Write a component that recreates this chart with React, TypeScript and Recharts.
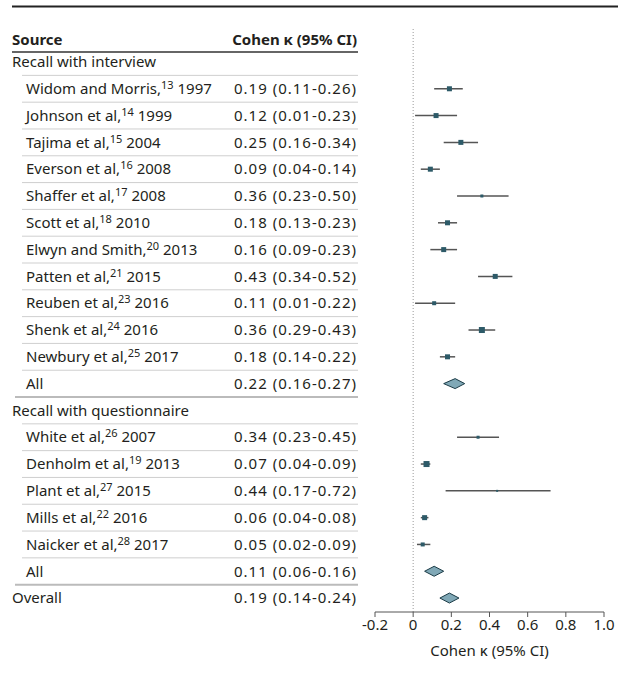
import React from 'react'
import * as R from 'recharts'

const { ScatterChart, Scatter, XAxis, YAxis, ErrorBar, ReferenceLine } = R

// one entry per table row, top to bottom
const sources = [
  'Recall with interview',
  'Widom and Morris,', 'Johnson et al,', 'Tajima et al,', 'Everson et al,', 'Shaffer et al,',
  'Scott et al,', 'Elwyn and Smith,', 'Patten et al,', 'Reuben et al,', 'Shenk et al,', 'Newbury et al,',
  'All',
  'Recall with questionnaire',
  'White et al,', 'Denholm et al,', 'Plant et al,', 'Mills et al,', 'Naicker et al,',
  'All',
  'Overall',
]
const refs = ['', '13', '14', '15', '16', '17', '18', '20', '21', '23', '24', '25', '', '', '26', '19', '27', '22', '28', '', '']
const years = ['', '1997', '1999', '2004', '2008', '2008', '2010', '2013', '2015', '2016', '2016', '2017', '', '', '2007', '2013', '2015', '2016', '2017', '', '']
const rowKind = ['group', 's', 's', 's', 's', 's', 's', 's', 's', 's', 's', 's', 'sub', 'group', 's', 's', 's', 's', 's', 'sub', 'overall']
const kappa = [null, 0.19, 0.12, 0.25, 0.09, 0.36, 0.18, 0.16, 0.43, 0.11, 0.36, 0.18, 0.22, null, 0.34, 0.07, 0.44, 0.06, 0.05, 0.11, 0.19]
const lower = [null, 0.11, 0.01, 0.16, 0.04, 0.23, 0.13, 0.09, 0.34, 0.01, 0.29, 0.14, 0.16, null, 0.23, 0.04, 0.17, 0.04, 0.02, 0.06, 0.14]
const upper = [null, 0.26, 0.23, 0.34, 0.14, 0.50, 0.23, 0.23, 0.52, 0.22, 0.43, 0.22, 0.27, null, 0.45, 0.09, 0.72, 0.08, 0.09, 0.16, 0.24]
// relative study weight (drives marker size)
const weight = [0, 5, 5, 5, 5, 3, 5, 5, 5, 4, 6, 5, 0, 0, 3, 6, 2, 5, 4, 0, 0]
const xTicks = [-0.2, 0, 0.2, 0.4, 0.6, 0.8, 1.0]

const FONT = '"Noto Sans", "Open Sans", sans-serif'
const INK = '#231f20'
const ROW_H = 26.8

const rows = sources.map((s, i) => i)
const studies = rows
  .filter(i => rowKind[i] === 's')
  .map(i => ({ x: kappa[i], y: i, w: weight[i], err: [kappa[i]! - lower[i]!, upper[i]! - kappa[i]!] }))
const pooled = rows
  .filter(i => rowKind[i] === 'sub' || rowKind[i] === 'overall')
  .map(i => ({ x: kappa[i], y: i, lo: lower[i], hi: upper[i] }))

const ciText = (i: number) =>
  kappa[i] == null ? '' : `${kappa[i]!.toFixed(2)} (${lower[i]!.toFixed(2)}-${upper[i]!.toFixed(2)})`

function RowTick(props: any) {
  const i = props.payload.value
  const y = props.y
  const kind = rowKind[i]
  const indent = kind === 's' || kind === 'sub'
  return (
    <g fontFamily={FONT} fontSize={15} fill={INK}>
      <text x={indent ? 26 : 12} y={y} dy="0.35em" fill={INK}>
        {sources[i]}
        {refs[i] && <tspan fontSize={11} dy={-5}>{refs[i]}</tspan>}
        {years[i] && <tspan dy={refs[i] ? 5 : 0}> {years[i]}</tspan>}
      </text>
      <text x={357} y={y} dy="0.35em" textAnchor="end" letterSpacing={1} fill={INK}>{ciText(i)}</text>
      {kind !== 'overall' && (
        <line
          x1={kind === 'sub' ? 15 : 22} x2={358}
          y1={y + ROW_H / 2} y2={y + ROW_H / 2}
          stroke={kind === 'sub' ? '#bbb' : '#cfcfcf'} strokeWidth={kind === 'sub' ? 2 : 1}
        />
      )}
    </g>
  )
}

function StudyMark(props: any) {
  const s = props.payload.w
  return <rect x={props.cx - s / 2} y={props.cy - s / 2} width={s} height={s} fill="#2d5a68" />
}

function DiamondMark(props: any) {
  const anyR = R as any
  const scale = anyR.useXAxisScale ? anyR.useXAxisScale() : null
  const plot = anyR.usePlotArea ? anyR.usePlotArea() : null
  const toPx = (v: number) => {
    if (scale) return scale(v)
    if (plot) return plot.x + ((v - xTicks[0]) / (xTicks[xTicks.length - 1] - xTicks[0])) * plot.width
    return props.cx
  }
  const { cx, cy, payload } = props
  const l = toPx(payload.lo)
  const h = toPx(payload.hi)
  const pts = `${l},${cy} ${cx},${cy - 5} ${h},${cy} ${cx},${cy + 5}`
  return <polygon points={pts} fill="#80a8b6" stroke="#1b3b46" strokeWidth={1} />
}

export default function App() {
  return (
    <div style={{ position: 'absolute', left: 0, top: 0, width: 621, height: 679, background: '#fff' }}>
      <svg width={621} height={679} style={{ position: 'absolute', left: 0, top: 0 }}>
        <line x1={12} x2={618} y1={6.5} y2={6.5} stroke="#222" strokeWidth={2} />
        <text x={12} y={40} dy="0.35em" fontFamily={FONT} fontSize={15} fontWeight={700} fill={INK}>Source</text>
        <text x={357} y={40} dy="0.35em" textAnchor="end" fontFamily={FONT} fontSize={15} fontWeight={700} fill={INK}>Cohen κ (95% CI)</text>
        <line x1={12} x2={358} y1={52} y2={52} stroke="#333" strokeWidth={1.5} />
      </svg>
      <div style={{ position: 'absolute', left: 0, top: 0 }}>
        <ScatterChart width={621} height={679} margin={{ top: 29, right: 17, bottom: 0, left: 0 }}>
          <XAxis
            type="number" dataKey="x" domain={[-0.2, 1]} ticks={xTicks} allowDataOverflow
            tickFormatter={(v: number) => (v === 0 ? '0' : v.toFixed(1))}
            height={67} tickSize={5} stroke="#555"
            tick={{ fill: INK, fontSize: 15, fontFamily: FONT }}
            label={{ value: 'Cohen κ (95% CI)', position: 'insideBottom', offset: 23, fill: INK, fontSize: 15, fontFamily: FONT }}
          />
          <YAxis
            type="number" dataKey="y" domain={[-1.23, 20.52]} reversed allowDataOverflow
            ticks={rows} interval={0} width={375} axisLine={false} tickLine={false}
            tick={<RowTick />}
          />
          <ReferenceLine x={0} stroke="#999" strokeDasharray="1 2" />
          <Scatter data={studies} shape={<StudyMark />} isAnimationActive={false}>
            <ErrorBar dataKey="err" direction="x" width={0} stroke="#555" strokeWidth={1.5} />
          </Scatter>
          <Scatter data={pooled} shape={<DiamondMark />} isAnimationActive={false} />
        </ScatterChart>
      </div>
    </div>
  )
}
